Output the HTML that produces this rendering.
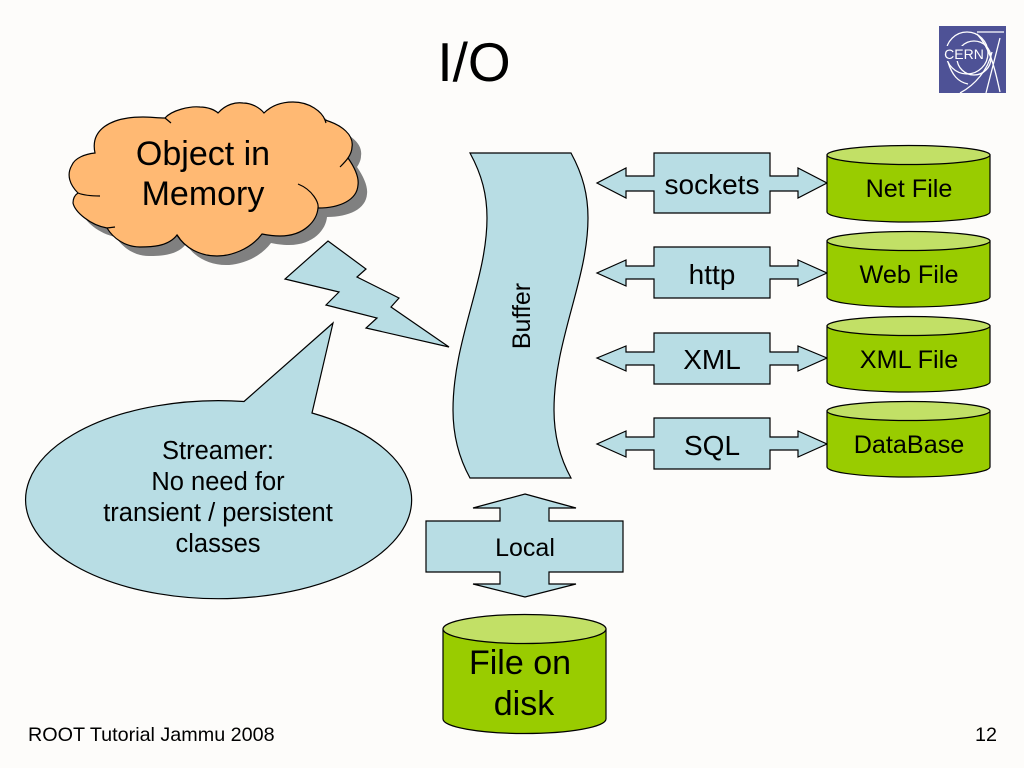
<!DOCTYPE html>
<html lang="en">
<head>
<meta charset="utf-8">
<title>I/O</title>
<style>
html,body{margin:0;padding:0;background:#fdfcfa;width:1024px;height:768px;overflow:hidden}
svg{display:block}
text{font-family:"Liberation Sans",Arial,sans-serif;fill:#000}
.s{stroke:#000;stroke-width:1.2;stroke-linejoin:miter}
.b{fill:#b8dde4}
.g{fill:#99cc00}
.l{fill:#c2e066}
.m{text-anchor:middle}
</style>
</head>
<body>
<svg width="1024" height="768" viewBox="0 0 1024 768" xmlns="http://www.w3.org/2000/svg">
<defs>
<path id="cloud" d="M95,153 C90,130 110,117 143,117 C150,117 158,118 165,118 C172,110 190,106 200,107 C208,107 215,110 218,113 C226,104 236,102 243,103 C252,103 260,108 264,113 C273,104 285,102 293,102 C310,102 322,112 325,120 C342,125 354,135 352,147 C352,151 350,155 348,158 C355,168 359,178 358,185 C357,200 340,208 318,208 C317,220 305,236 280,236 C273,236 267,235 262,234 C250,250 230,256 217,256 C200,256 185,248 177,235 C168,247 150,247 140,247 C125,247 113,238 107,228 C90,225 75,212 73,203 C73,198 75,195 78,193 C70,185 66,175 72,165 C75,158 85,154 95,153 Z"/>
</defs>
<rect width="1024" height="768" fill="#fdfcfa"/>

<!-- Title -->
<text x="474" y="81" class="m" font-size="55">I/O</text>

<!-- CERN logo -->
<rect x="939" y="26" width="67" height="67" fill="#4e5296"/>
<g fill="none" stroke="#fff" stroke-width="1.3">
<circle cx="967" cy="53" r="21"/>
<circle cx="974" cy="58" r="17"/>
<path d="M977,32 H1004 M1000,38 L986,93 M977,34 C992,50 996,75 1000,92 M960,93 C975,85 988,70 992,52 M948,62 C952,75 958,82 968,84"/>
</g>
<rect x="945" y="46" width="40" height="15" fill="#4e5296"/>
<text x="964" y="59" class="m" font-size="14" style="fill:#fff">CERN</text>

<!-- Cloud -->
<use href="#cloud" x="9" y="9" fill="#808080"/>
<use href="#cloud" fill="#ffb973" stroke="#000" stroke-width="1.2"/>
<path d="M165,118 L171,123 M325,120 L326,123 M340,167 C343,164 346,161 348,158 M298,184 C313,190 319,203 318,208 M100,196 C90,196 83,195 78,193 M107,228 L115,227 M177,235 L180,239" fill="none" stroke="#000" stroke-width="1.2"/>
<text x="203" y="165" class="m" font-size="34">Object in</text>
<text x="203" y="205" class="m" font-size="34">Memory</text>

<!-- Lightning -->
<polygon class="s b" points="328,241 366,269 357,277 399,298 391,307 449,347 366,328 377,318 326,305 339,292 285,279"/>

<!-- Callout -->
<path class="s b" d="M245,401.5 L334,323 L313,413 A193,99 0 1 1 245,401.5 Z" transform="translate(-1,0)"/>
<g class="m" font-size="25.5">
<text x="218" y="459">Streamer:</text>
<text x="218" y="490">No need for</text>
<text x="218" y="521">transient / persistent</text>
<text x="218" y="552">classes</text>
</g>

<!-- Buffer -->
<path class="s b" d="M470,153 L571,153 C583,175 588,195 588,218 C588,280 554,340 554,410 C554,435 560,458 571,478 L470,478 C459,458 453,435 453,410 C453,340 487,280 487,218 C487,195 482,175 470,153 Z"/>
<text transform="translate(530,316) rotate(-90)" class="m" font-size="25">Buffer</text>

<!-- Arrow callouts -->
<polygon class="s b" points="654,153 770,153 770,176 798,176 798,168 827,183 798,198 798,191 770,191 770,213 654,213 654,191 626,191 626,198 597,183 626,168 626,176 654,176"/>
<polygon class="s b" points="654,247 770,247 770,266 798,266 798,260 827,273 798,286 798,279 770,279 770,298 654,298 654,279 626,279 626,286 597,273 626,260 626,266 654,266"/>
<polygon class="s b" points="654,333 770,333 770,352 798,352 798,346 827,358 798,371 798,365 770,365 770,384 654,384 654,365 626,365 626,371 597,358 626,346 626,352 654,352"/>
<polygon class="s b" points="654,418 770,418 770,437 798,437 798,431 827,444 798,457 798,450 770,450 770,469 654,469 654,450 626,450 626,457 597,444 626,431 626,437 654,437"/>
<g class="m" font-size="28">
<text x="712" y="194">sockets</text>
<text x="712" y="284">http</text>
<text x="712" y="369">XML</text>
<text x="712" y="455">SQL</text>
</g>

<!-- Cylinders -->
<g>
<path class="s g" d="M827,155 V212 A81.5,10 0 0 0 990,212 V155 Z"/>
<ellipse class="s l" cx="908.5" cy="155" rx="81.5" ry="9.5"/>
<path class="s g" d="M827,241 V297 A81.5,10 0 0 0 990,297 V241 Z"/>
<ellipse class="s l" cx="908.5" cy="241" rx="81.5" ry="9.5"/>
<path class="s g" d="M827,326 V382 A81.5,10 0 0 0 990,382 V326 Z"/>
<ellipse class="s l" cx="908.5" cy="326" rx="81.5" ry="9.5"/>
<path class="s g" d="M827,411 V467 A81.5,10 0 0 0 990,467 V411 Z"/>
<ellipse class="s l" cx="908.5" cy="411" rx="81.5" ry="9.5"/>
</g>
<g class="m" font-size="25.2">
<text x="909" y="197">Net File</text>
<text x="909" y="283">Web File</text>
<text x="909" y="368">XML File</text>
<text x="909" y="453">DataBase</text>
</g>

<!-- Local -->
<polygon class="s b" points="525,494 576,508 549,508 549,521 623,521 623,572 549,572 549,584 576,584 525,597 473,584 500,584 500,572 426,572 426,521 500,521 500,508 473,508"/>
<text x="525" y="556" class="m" font-size="25">Local</text>

<!-- File on disk -->
<path class="s g" d="M443,629 V719 A81.5,14.5 0 0 0 606,719 V629 Z"/>
<ellipse class="s l" cx="524.5" cy="629" rx="81.5" ry="14.5"/>
<text x="520" y="674" class="m" font-size="34">File on</text>
<text x="524" y="715" class="m" font-size="34">disk</text>

<!-- Footer -->
<text x="28" y="741" font-size="19.75">ROOT Tutorial Jammu 2008</text>
<text x="986" y="741" class="m" font-size="19.75">12</text>
</svg>
</body>
</html>
